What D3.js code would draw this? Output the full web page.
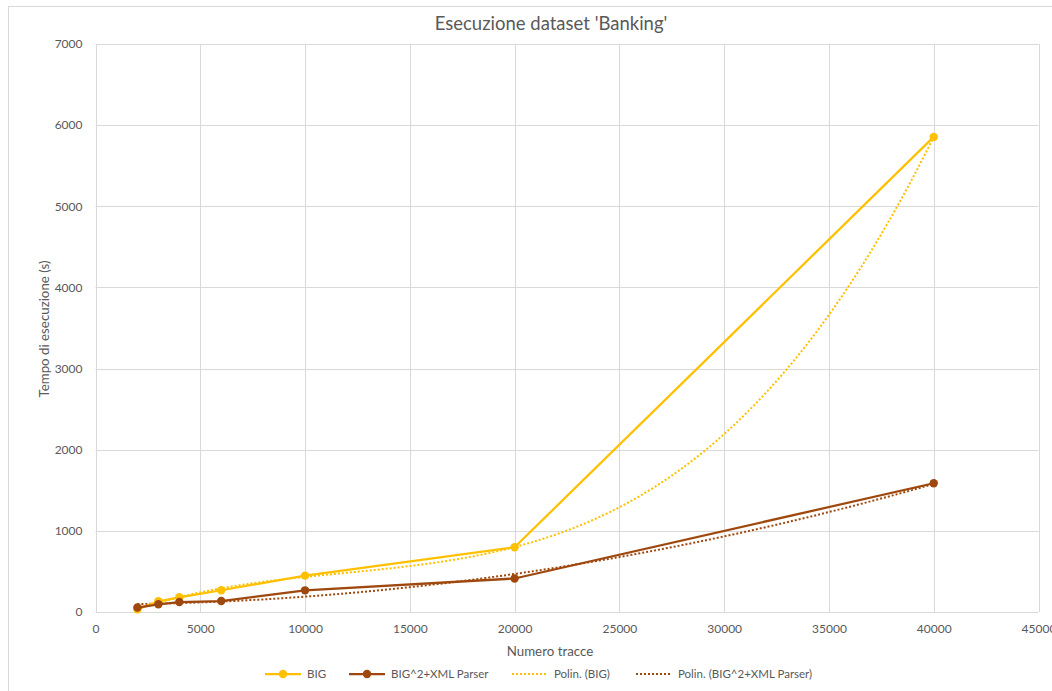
<!DOCTYPE html>
<html>
<head>
<meta charset="utf-8">
<script src="https://cdn.jsdelivr.net/npm/d3@7"></script>
<style>
  html, body { margin: 0; padding: 0; background: #fff; }
  svg { display: block; font-family: Lato, "Open Sans", sans-serif; }
</style>
</head>
<body>
<svg id="chart" width="1052" height="691"></svg>
<script>
// Dataset: execution time (s) vs number of traces
const traces = [2000, 3000, 4000, 6000, 10000, 20000, 40000];
const bigTimes = [33, 132, 181, 268, 448, 798, 5855];
const bigXmlTimes = [55, 95, 123, 135, 267, 413, 1587];
const xTicks = [0, 5000, 10000, 15000, 20000, 25000, 30000, 35000, 40000, 45000];
const yTicks = [0, 1000, 2000, 3000, 4000, 5000, 6000, 7000];
const seriesNames = ["BIG", "BIG^2+XML Parser", "Polin. (BIG)", "Polin. (BIG^2+XML Parser)"];
// polynomial trendline orders
const trendOrderBig = 3;
const trendOrderXml = 2;

const colorBig = "#FFC000";
const colorXml = "#9E480E";

const svg = d3.select("#chart");
const plot = { left: 95.5, right: 1038.5, top: 44, bottom: 612 };

// chart frame
svg.append("rect").attr("x", 8.5).attr("y", 6.5).attr("width", 1060).attr("height", 700)
  .attr("fill", "#fff").attr("stroke", "#d9d9d9").attr("stroke-width", 1);

const x = d3.scaleLinear().domain([0, 45000]).range([plot.left, plot.right]);
const y = d3.scaleLinear().domain([0, 7000]).range([plot.bottom, plot.top]);

// gridlines
const grid = svg.append("g").attr("stroke", "#d9d9d9").attr("stroke-width", 1);
grid.selectAll("line.h").data(yTicks).join("line")
  .attr("x1", plot.left).attr("x2", plot.right)
  .attr("y1", d => Math.round(y(d)) + 0.5).attr("y2", d => Math.round(y(d)) + 0.5);
grid.selectAll("line.v").data(xTicks).join("line")
  .attr("y1", plot.top).attr("y2", plot.bottom)
  .attr("x1", d => Math.round(x(d)) + 0.5).attr("x2", d => Math.round(x(d)) + 0.5);

// axes (labels only)
const xAxis = svg.append("g").attr("transform", `translate(0,${plot.bottom})`)
  .call(d3.axisBottom(x).tickValues(xTicks).tickSize(0).tickPadding(12).tickFormat(d3.format("d")));
const yAxis = svg.append("g").attr("transform", `translate(${plot.left},0)`)
  .call(d3.axisLeft(y).tickValues(yTicks).tickSize(0).tickPadding(13).tickFormat(d3.format("d")));
[xAxis, yAxis].forEach(a => {
  a.select(".domain").remove();
  a.selectAll("text").attr("fill", "#595959").style("font-size", "12px")
    .style("font-family", "Lato, 'Open Sans', sans-serif");
});

// least-squares polynomial fit
function polyfit(xs, ys, order) {
  const n = order + 1;
  const A = Array.from({ length: n }, () => new Array(n + 1).fill(0));
  const s = v => v / 10000;
  for (let r = 0; r < n; r++) {
    for (let c = 0; c < n; c++) {
      A[r][c] = d3.sum(xs, xv => Math.pow(s(xv), r + c));
    }
    A[r][n] = d3.sum(xs, (xv, i) => ys[i] * Math.pow(s(xv), r));
  }
  for (let i = 0; i < n; i++) {
    let p = i;
    for (let k = i + 1; k < n; k++) if (Math.abs(A[k][i]) > Math.abs(A[p][i])) p = k;
    [A[i], A[p]] = [A[p], A[i]];
    for (let k = i + 1; k < n; k++) {
      const f = A[k][i] / A[i][i];
      for (let j = i; j <= n; j++) A[k][j] -= f * A[i][j];
    }
  }
  const coef = new Array(n).fill(0);
  for (let i = n - 1; i >= 0; i--) {
    let acc = A[i][n];
    for (let j = i + 1; j < n; j++) acc -= A[i][j] * coef[j];
    coef[i] = acc / A[i][i];
  }
  return xv => coef.reduce((acc, c, k) => acc + c * Math.pow(s(xv), k), 0);
}

const line = d3.line().x(d => x(d[0])).y(d => y(d[1]));
const sampleXs = d3.range(traces[0], traces[traces.length - 1] + 1, 200);

// trendlines (drawn under the series)
function drawTrend(vals, order, color) {
  const f = polyfit(traces, vals, order);
  svg.append("path").attr("d", line(sampleXs.map(v => [v, f(v)])))
    .attr("fill", "none").attr("stroke", color).attr("stroke-width", 2)
    .attr("stroke-dasharray", "2,2");
}
drawTrend(bigTimes, trendOrderBig, colorBig);
drawTrend(bigXmlTimes, trendOrderXml, colorXml);

// data series
function drawSeries(vals, color) {
  const pts = traces.map((t, i) => [t, vals[i]]);
  svg.append("path").attr("d", line(pts)).attr("fill", "none")
    .attr("stroke", color).attr("stroke-width", 2.25).attr("stroke-linejoin", "round");
  svg.append("g").selectAll("circle").data(pts).join("circle")
    .attr("cx", d => x(d[0])).attr("cy", d => y(d[1])).attr("r", 4.2).attr("fill", color);
}
drawSeries(bigTimes, colorBig);
drawSeries(bigXmlTimes, colorXml);

// titles
svg.append("text").attr("x", 551).attr("y", 30).attr("text-anchor", "middle")
  .attr("fill", "#595959").style("font-size", "18.5px").text("Esecuzione dataset 'Banking'");
svg.append("text").attr("x", 550).attr("y", 656).attr("text-anchor", "middle")
  .attr("fill", "#595959").style("font-size", "13.3px").text("Numero tracce");
svg.append("text").attr("transform", "translate(49,329) rotate(-90)").attr("text-anchor", "middle")
  .attr("fill", "#595959").style("font-size", "13.3px").text("Tempo di esecuzione (s)");

// legend
const legendItems = [
  { name: seriesNames[0], color: colorBig, dotted: false, x0: 265 },
  { name: seriesNames[1], color: colorXml, dotted: false, x0: 349 },
  { name: seriesNames[2], color: colorBig, dotted: true, x0: 512 },
  { name: seriesNames[3], color: colorXml, dotted: true, x0: 636 }
];
const ly = 674;
const lg = svg.append("g");
legendItems.forEach(it => {
  lg.append("line").attr("x1", it.x0).attr("x2", it.x0 + 36).attr("y1", ly).attr("y2", ly)
    .attr("stroke", it.color).attr("stroke-width", it.dotted ? 2 : 2.25)
    .attr("stroke-dasharray", it.dotted ? "2,2" : null);
  if (!it.dotted) lg.append("circle").attr("cx", it.x0 + 18).attr("cy", ly).attr("r", 4.2).attr("fill", it.color);
  lg.append("text").attr("x", it.x0 + 42).attr("y", ly + 4).attr("fill", "#595959")
    .style("font-size", "11.5px").text(it.name);
});
</script>
</body>
</html>
